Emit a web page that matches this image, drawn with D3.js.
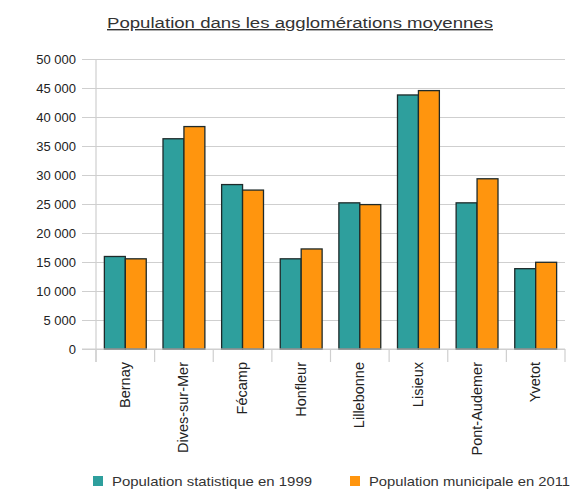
<!DOCTYPE html>
<html lang="fr">
<head>
<meta charset="UTF-8">
<title>Population dans les agglomérations moyennes</title>
<script src="https://cdn.jsdelivr.net/npm/d3@7/dist/d3.min.js"></script>
<style>
  body { margin: 0; background: #fff; }
  text { font-family: "Liberation Sans", Arial, sans-serif; fill: #222; }
</style>
</head>
<body>
<script>
// données
const villes = ["Bernay", "Dives-sur-Mer", "Fécamp", "Honfleur", "Lillebonne", "Lisieux", "Pont-Audemer", "Yvetot"];
const pop1999 = [15950, 36250, 28350, 15550, 25200, 43800, 25200, 13850];
const pop2011 = [15550, 38350, 27400, 17250, 24900, 44550, 29350, 14950];
const series = ["Population statistique en 1999", "Population municipale en 2011"];
const couleurs = ["#2e9f9d", "#ff950e"];
const yTicks = [0, 5000, 10000, 15000, 20000, 25000, 30000, 35000, 40000, 45000, 50000];

const width = 570, height = 493;
const margin = {top: 59, right: 5, bottom: 144, left: 96};

const svg = d3.select("body").append("svg")
    .attr("width", width)
    .attr("height", height);

// titre
svg.append("text")
    .attr("x", 300)
    .attr("y", 28)
    .attr("text-anchor", "middle")
    .attr("font-size", 14)
    .attr("textLength", 386)
    .attr("lengthAdjust", "spacingAndGlyphs")
    .attr("text-decoration", "underline")
    .style("fill", "#333")
    .text("Population dans les agglomérations moyennes");

const x = d3.scaleBand()
    .domain(villes)
    .range([margin.left, width - margin.right]);

const x1 = d3.scaleBand()
    .domain(series)
    .range([0, x.bandwidth()])
    .paddingOuter(0.4)
    .paddingInner(0);

const y = d3.scaleLinear()
    .domain([0, 50000])
    .range([height - margin.bottom, margin.top]);

const fmt = v => d3.format(",")(v).replace(/,/g, " ");

// grille + axe y
const gy = svg.append("g")
    .attr("transform", `translate(${margin.left},0)`)
    .call(d3.axisLeft(y).tickValues(yTicks).tickFormat(fmt)
        .tickSize(-(width - margin.right - margin.left)).tickPadding(20));
gy.select(".domain").remove();
gy.selectAll(".tick line")
    .attr("x1", -14)
    .attr("stroke", "#cfcfcf")
    .attr("stroke-width", 1.2);
gy.selectAll(".tick text")
    .attr("font-size", 13)
    .attr("x", -20)
    .style("fill", "#222");

// axe vertical
svg.append("line")
    .attr("x1", margin.left).attr("x2", margin.left)
    .attr("y1", y(50000)).attr("y2", y(0) + 13)
    .attr("stroke", "#cfcfcf")
    .attr("stroke-width", 1.2);

// barres
const data = villes.map((v, i) => ({ville: v, valeurs: [pop1999[i], pop2011[i]]}));
const groupes = svg.append("g").selectAll("g")
    .data(data)
    .join("g")
    .attr("transform", d => `translate(${x(d.ville)},0)`);

groupes.selectAll("rect")
    .data(d => d.valeurs.map((v, j) => ({serie: series[j], v, j})))
    .join("rect")
    .attr("x", d => x1(d.serie))
    .attr("y", d => y(d.v))
    .attr("width", x1.bandwidth())
    .attr("height", d => y(0) - y(d.v))
    .attr("fill", d => couleurs[d.j])
    .attr("stroke", "#1e2a2a")
    .attr("stroke-width", 1.3);

// axe x
const gx = svg.append("g")
    .attr("transform", `translate(0,${y(0)})`);
gx.append("line")
    .attr("x1", margin.left - 14).attr("x2", width - margin.right)
    .attr("stroke", "#cfcfcf").attr("stroke-width", 1.2);
gx.selectAll("line.sep")
    .data(villes.concat(["__fin"]))
    .join("line")
    .attr("class", "sep")
    .attr("x1", (d, i) => i < villes.length ? x(d) : x.range()[1])
    .attr("x2", (d, i) => i < villes.length ? x(d) : x.range()[1])
    .attr("y1", 0).attr("y2", 13)
    .attr("stroke", "#cfcfcf").attr("stroke-width", 1.2);
gx.selectAll("text")
    .data(villes)
    .join("text")
    .attr("transform", d => `translate(${x(d) + x.bandwidth() / 2 + 4.5},13) rotate(-90)`)
    .attr("text-anchor", "end")
    .attr("font-size", 14.5)
    .text(d => d);

// légende
const leg = svg.append("g").attr("transform", `translate(0,481)`);
const legX = [93, 350];
const legW = [200, 201];
series.forEach((s, i) => {
    leg.append("rect")
        .attr("x", legX[i]).attr("y", -5)
        .attr("width", 10).attr("height", 10)
        .attr("fill", couleurs[i]);
    leg.append("text")
        .attr("x", legX[i] + 19).attr("y", 4.5)
        .attr("font-size", 13)
        .attr("textLength", legW[i])
        .attr("lengthAdjust", "spacingAndGlyphs")
        .style("fill", "#333")
        .text(s);
});
</script>
</body>
</html>
